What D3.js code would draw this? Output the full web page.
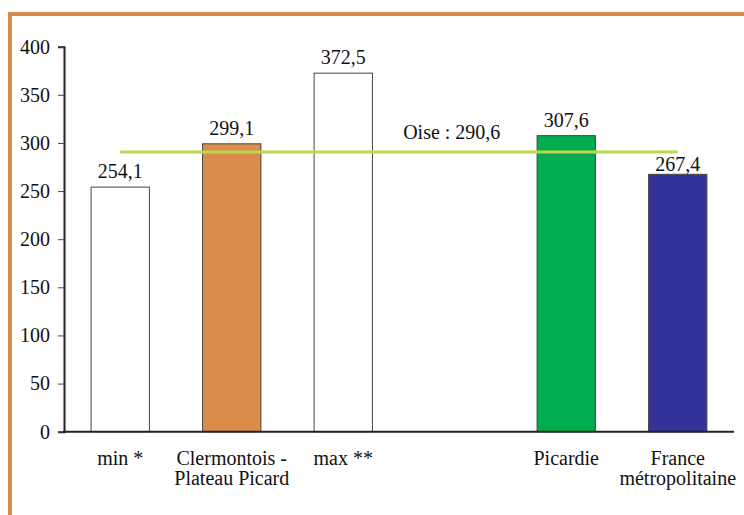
<!DOCTYPE html>
<html>
<head>
<meta charset="utf-8">
<script src="https://cdn.jsdelivr.net/npm/d3@7"></script>
<style>
  html, body { margin: 0; padding: 0; background: #fff; }
  svg { display: block; }
</style>
</head>
<body>
<script>
// ---- data ----
const categories = ["min *", "Clermontois - Plateau Picard", "max **", "", "Picardie", "France métropolitaine"];
const categoryLines = [["min *"], ["Clermontois -", "Plateau Picard"], ["max **"], [], ["Picardie"], ["France", "métropolitaine"]];
const values = [254.1, 299.1, 372.5, null, 307.6, 267.4];
const valueLabels = ["254,1", "299,1", "372,5", "", "307,6", "267,4"];
const oiseValue = 290.6;
const oiseLabel = "Oise : 290,6";
const yTicks = [0, 50, 100, 150, 200, 250, 300, 350, 400];

// ---- styles ----
const barColors = ["#ffffff", "#D98D4A", "#ffffff", "none", "#00AC4E", "#333399"];
const borderColor = "#D98B48";
const lineColor = "#BDD74A";
const FONT = '"Liberation Serif"';
const FS = "20px";

const W = 744, H = 515;
const svg = d3.select("body").append("svg").attr("width", W).attr("height", H);
svg.append("rect").attr("width", W).attr("height", H).attr("fill", "#fff");

// frame (orange border left and top)
svg.append("rect").attr("x", 8).attr("y", 12).attr("width", 4).attr("height", H - 12).attr("fill", borderColor);
svg.append("rect").attr("x", 8).attr("y", 12).attr("width", W - 8).attr("height", 4).attr("fill", borderColor);

const x0 = 64, x1 = 734, yTop = 46.7, yBot = 431.7;
const x = d3.scaleBand().domain(d3.range(categories.length)).range([x0, x1])
  .paddingInner(0.477).paddingOuter(0.243);
const y = d3.scaleLinear().domain([0, 400]).range([yBot, yTop]);

function styleText(sel) {
  return sel.style("font-family", FONT).style("font-size", FS).style("fill", "#111");
}

// bars
const idx = d3.range(categories.length).filter(i => values[i] != null);
svg.append("g").selectAll("rect").data(idx).join("rect")
  .attr("x", i => x(i)).attr("width", x.bandwidth())
  .attr("y", i => y(values[i])).attr("height", i => y(0) - y(values[i]))
  .attr("fill", i => barColors[i])
  .attr("stroke", "#444").attr("stroke-width", 1);

// y axis
const yAxis = d3.axisLeft(y).tickValues(yTicks).tickSize(6).tickPadding(8).tickFormat(d3.format("d"));
const gy = svg.append("g").attr("transform", `translate(${x0},0)`).call(yAxis);
gy.attr("font-family", "Liberation Serif");
gy.select(".domain").attr("stroke", "#222").attr("stroke-width", 2);
gy.selectAll(".tick line").attr("stroke", "#444").attr("stroke-width", 1);
styleText(gy.selectAll(".tick text"));

// x axis line
svg.append("line").attr("x1", x0 - 1).attr("x2", x1).attr("y1", y(0)).attr("y2", y(0))
  .attr("stroke", "#222").attr("stroke-width", 2);

// category labels
const lab = svg.append("g");
categoryLines.forEach((lines, i) => {
  lines.forEach((t, k) => {
    styleText(lab.append("text").attr("x", x(i) + x.bandwidth() / 2).attr("y", 465 + k * 20)
      .attr("text-anchor", "middle").text(t));
  });
});

// Oise reference line
const oy = y(oiseValue);
svg.append("line")
  .attr("x1", x(0) + x.bandwidth() / 2).attr("x2", x(categories.length - 1) + x.bandwidth() / 2)
  .attr("y1", oy).attr("y2", oy)
  .attr("stroke", lineColor).attr("stroke-width", 3);
styleText(svg.append("text").attr("x", x(3) + x.bandwidth() / 2 - 3).attr("y", oy - 13)
  .attr("text-anchor", "middle").text(oiseLabel));

// value labels (nudged below reference line when they would overlap it)
styleText(svg.append("g").selectAll("text").data(idx).join("text")
  .attr("x", i => x(i) + x.bandwidth() / 2)
  .attr("y", i => {
    const base = y(values[i]) - 9;
    const top = base - 14;
    if (top < oy + 3 && base > oy - 3 && values[i] < oiseValue) return Math.max(base, oy + 19);
    return base;
  })
  .attr("text-anchor", "middle")
  .text(i => valueLabels[i]));
</script>
</body>
</html>
